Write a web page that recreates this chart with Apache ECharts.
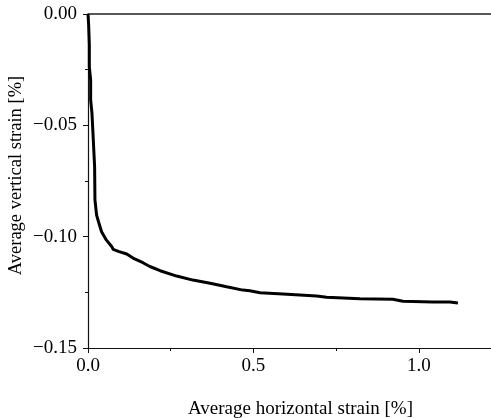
<!DOCTYPE html>
<html>
<head>
<meta charset="utf-8">
<script src="https://cdn.jsdelivr.net/npm/echarts@6/dist/echarts.min.js"></script>
<style>html,body{margin:0;padding:0;background:#fff}#c{width:491px;height:418px}</style>
</head>
<body>
<div id="c"></div>
<script>
const horizontalStrain = [0, 0.002, 0.004, 0.004, 0.008, 0.008, 0.012, 0.014, 0.020, 0.021, 0.026, 0.032, 0.041, 0.054, 0.072, 0.076, 0.094, 0.117, 0.136, 0.166, 0.187, 0.218, 0.268, 0.317, 0.369, 0.419, 0.468, 0.489, 0.520, 0.589, 0.691, 0.721, 0.822, 0.921, 0.952, 1.042, 1.094, 1.118];
const verticalStrain = [0, -0.0049, -0.0139, -0.0237, -0.0296, -0.0386, -0.0445, -0.0506, -0.0686, -0.0835, -0.0903, -0.0934, -0.0978, -0.1012, -0.1045, -0.1057, -0.1067, -0.1078, -0.1096, -0.1117, -0.1134, -0.1153, -0.1177, -0.1195, -0.1209, -0.1225, -0.1240, -0.1243, -0.1252, -0.1257, -0.1266, -0.1272, -0.1279, -0.1281, -0.1290, -0.1293, -0.1293, -0.1298];
const xMajorTicks = [0, 0.5, 1.0];
const xMinorTicks = [0.25, 0.75];
const yMajorTicks = [0, -0.05, -0.10, -0.15];
const xLabel = 'Average horizontal strain [%]';
const yLabel = 'Average vertical strain [%]';

const font = 'Liberation Serif';
const axisColor = '#111';
const xMin = 0, xMax = 1.218;

const chart = echarts.init(document.getElementById('c'));
const data = horizontalStrain.map((x, i) => [x, verticalStrain[i]]);

chart.setOption({
  animation: false,
  backgroundColor: '#fff',
  grid: { left: 88, top: 14, right: 0, bottom: 70, containLabel: false, outerBoundsMode: 'none' },
  xAxis: [
    {
      type: 'value', position: 'bottom', min: xMin, max: xMax,
      name: xLabel, nameLocation: 'middle', nameGap: 52, nameMoveOverlap: false,
      nameTextStyle: { fontFamily: font, fontSize: 19, color: '#000', padding: [0, 0, 0, 22] },
      axisLine: { show: true, onZero: false, lineStyle: { color: axisColor, width: 1.2 } },
      axisTick: { show: true, inside: false, length: 5, customValues: xMajorTicks, lineStyle: { color: axisColor } },
      axisLabel: { customValues: xMajorTicks, fontFamily: font, fontSize: 19, color: '#000', margin: 9,
        formatter: v => v.toFixed(1) },
      splitLine: { show: false }
    },
    {
      type: 'value', position: 'bottom', min: xMin, max: xMax,
      axisLine: { show: false, onZero: false },
      axisTick: { show: true, length: 3, customValues: xMinorTicks, lineStyle: { color: axisColor } },
      axisLabel: { show: false },
      splitLine: { show: false }
    },
    {
      type: 'value', position: 'top', min: xMin, max: xMax,
      axisLine: { show: true, onZero: false, lineStyle: { color: '#222', width: 1.5 } },
      axisTick: { show: false }, axisLabel: { show: false }, splitLine: { show: false }
    }
  ],
  yAxis: {
    type: 'value', min: -0.15, max: 0, interval: 0.05,
    name: yLabel, nameLocation: 'middle', nameGap: 62, nameMoveOverlap: false,
    nameTextStyle: { fontFamily: font, fontSize: 18.5, color: '#000', padding: [0, 0, 0, 11] },
    axisLine: { show: true, onZero: false, lineStyle: { color: axisColor, width: 1.2 } },
    axisTick: { show: true, length: 5, lineStyle: { color: axisColor } },
    minorTick: { show: true, splitNumber: 2, length: 3, lineStyle: { color: axisColor } },
    axisLabel: { fontFamily: font, fontSize: 19, color: '#000', margin: 11,
      formatter: v => (v < 0 ? '\u2212' : '') + Math.abs(v).toFixed(2) },
    splitLine: { show: false }
  },
  series: [{
    type: 'line', xAxisIndex: 0, data: data, showSymbol: false, symbol: 'none',
    lineStyle: { color: '#000', width: 3 }, clip: true
  }]
});
</script>
</body>
</html>
